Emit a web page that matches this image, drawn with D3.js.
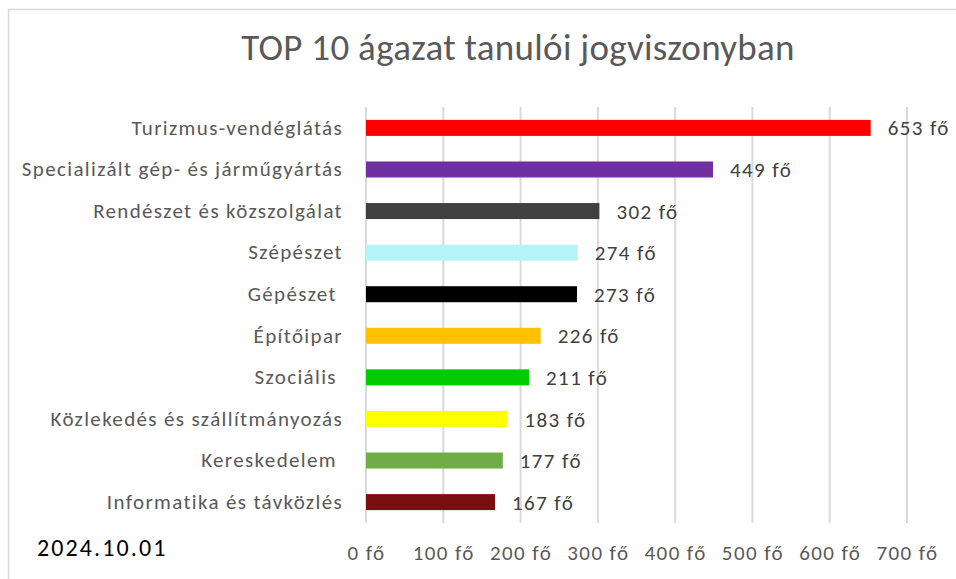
<!DOCTYPE html>
<html>
<head>
<meta charset="utf-8">
<script src="https://cdn.jsdelivr.net/npm/d3@7"></script>
<style>
  body { margin: 0; background: #fff; overflow: hidden; }
  svg { display: block; }
  text { font-family: Carlito, Lato, "Open Sans", sans-serif; white-space: pre; }
</style>
</head>
<body>
<div class="chartdiv"></div>
<script>
var categories = [
  "Turizmus-vendéglátás",
  "Specializált gép- és járműgyártás",
  "Rendészet és közszolgálat",
  "Szépészet",
  "Gépészet ",
  "Építőipar",
  "Szociális ",
  "Közlekedés és szállítmányozás",
  "Kereskedelem ",
  "Informatika és távközlés"
];
var values = [653, 449, 302, 274, 273, 226, 211, 183, 177, 167];
var colors = ["#ff0000", "#7030a0", "#404040", "#b7f2f9", "#000000",
              "#ffc000", "#00cc00", "#ffff00", "#70ad47", "#7b0f0f"];
var ticks = [0, 100, 200, 300, 400, 500, 600, 700];

var W = 956, H = 579;
var plot = {left: 366, right: 907, top: 107, bottom: 523};

var svg = d3.select(".chartdiv")
    .append("svg")
    .attr("width", W)
    .attr("height", H);

// chart border, only top and left edges fall inside the picture
svg.append("path")
    .attr("d", "M8.5," + H + "V9.5H" + W)
    .attr("fill", "none")
    .attr("stroke", "#d9d9d9")
    .attr("stroke-width", 1.5);

var x = d3.scaleLinear().domain([0, 700]).range([plot.left, plot.right]);
var y = d3.scaleBand().domain(categories).range([plot.top, plot.bottom]).paddingInner(0.615).paddingOuter(0.31);

// gridlines
svg.append("g")
  .selectAll("line")
    .data(ticks)
  .enter().append("line")
    .attr("x1", function(d) { return x(d); })
    .attr("x2", function(d) { return x(d); })
    .attr("y1", plot.top)
    .attr("y2", plot.bottom)
    .attr("stroke", "#d9d9d9")
    .attr("stroke-width", 2);

// x axis labels
var xAxis = d3.axisBottom(x)
    .tickValues(ticks)
    .tickSize(0)
    .tickPadding(0)
    .tickFormat(function(d) { return d + " fő"; });

svg.append("g")
    .attr("transform", "translate(0,560)")
    .call(xAxis)
    .call(function(g) { g.select(".domain").remove(); })
  .selectAll("text")
    .attr("dy", 0)
    .attr("font-size", 21)
    .attr("letter-spacing", 1.4)
    .attr("fill", "#595959");

// category labels
var yAxis = d3.axisLeft(y).tickSize(0).tickPadding(0);
svg.append("g")
    .attr("transform", "translate(343,0)")
    .call(yAxis)
    .call(function(g) { g.select(".domain").remove(); })
  .selectAll("text")
    .attr("font-size", 21)
    .attr("letter-spacing", 1.35)
    .attr("fill", "#595959");

// bars
svg.selectAll(".bar")
    .data(values)
  .enter().append("rect")
    .classed("bar", true)
    .attr("x", x(0))
    .attr("y", function(d, i) { return y(categories[i]); })
    .attr("width", function(d) { return x(d) - x(0); })
    .attr("height", y.bandwidth())
    .attr("fill", function(d, i) { return colors[i]; });

// value labels
svg.selectAll(".val")
    .data(values)
  .enter().append("text")
    .classed("val", true)
    .attr("x", function(d) { return x(d) + 17; })
    .attr("y", function(d, i) { return y(categories[i]) + y.bandwidth() / 2; })
    .attr("dy", "0.36em")
    .attr("font-size", 21)
    .attr("letter-spacing", 1.4)
    .attr("fill", "#404040")
    .text(function(d) { return d + " fő"; });

// title
svg.append("text")
    .attr("x", 518)
    .attr("y", 60)
    .attr("text-anchor", "middle")
    .attr("font-size", 37)
    .attr("letter-spacing", 0.3)
    .attr("fill", "#595959")
    .text("TOP 10 ágazat tanulói jogviszonyban");

// date
svg.append("text")
    .attr("x", 37)
    .attr("y", 556)
    .attr("font-size", 24)
    .attr("letter-spacing", 2.1)
    .attr("fill", "#000")
    .text("2024.10.01");
</script>
</body>
</html>
